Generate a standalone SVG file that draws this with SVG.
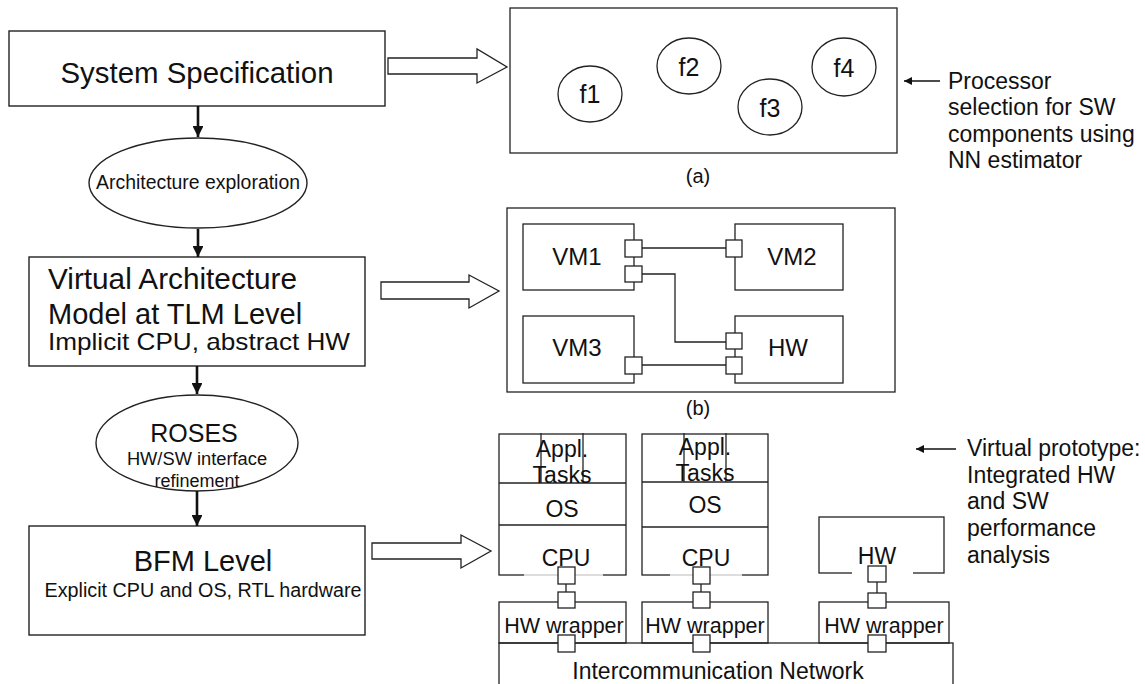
<svg xmlns="http://www.w3.org/2000/svg" width="1145" height="684" viewBox="0 0 1145 684">
<style>
.b{fill:#fff;stroke:#222;stroke-width:1.4}
.n{fill:none;stroke:#222;stroke-width:1.3}
.p{fill:#fff;stroke:#222;stroke-width:1.3}
.t{font-family:"Liberation Sans",Arial,sans-serif;fill:#111;text-anchor:middle}
.tl{font-family:"Liberation Sans",Arial,sans-serif;fill:#111;text-anchor:start}
.fl{fill:none;stroke:#111;stroke-width:2.6}
.fat{fill:#fff;stroke:#222;stroke-width:1.3}
</style>
<defs>
<marker id="ah" viewBox="0 0 10 10" refX="10" refY="5" markerWidth="4.2" markerHeight="4.2" orient="auto" markerUnits="strokeWidth"><path d="M0,0 L10,5 L0,10 z" fill="#111"/></marker>
<marker id="ah2" viewBox="0 0 10 10" refX="10" refY="5" markerWidth="13" markerHeight="8" orient="auto" markerUnits="userSpaceOnUse"><path d="M0,0 L10,5 L0,10 z" fill="#111"/></marker>
</defs>
<rect width="1145" height="684" fill="#fff"/>

<g id="sysspec">
<rect class="b" x="9" y="31" width="376" height="75"/>
<text class="t" x="197" y="83" font-size="29" textLength="273" lengthAdjust="spacingAndGlyphs">System Specification</text>
</g>
<g id="archexp">
<ellipse class="b" cx="198" cy="183" rx="109" ry="45"/>
<text class="t" x="198" y="189" font-size="19.5" textLength="204" lengthAdjust="spacingAndGlyphs">Architecture exploration</text>
</g>
<g id="vam">
<rect class="b" x="29" y="257" width="336" height="109"/>
<text class="tl" x="48" y="289" font-size="29" textLength="249" lengthAdjust="spacingAndGlyphs">Virtual Architecture</text>
<text class="tl" x="48" y="324" font-size="29">Model at TLM Level</text>
<text class="tl" x="48" y="350" font-size="24" textLength="302" lengthAdjust="spacingAndGlyphs">Implicit CPU, abstract HW</text>
</g>
<g id="roses">
<ellipse class="b" cx="197" cy="443" rx="101" ry="48"/>
<text class="t" x="194" y="442" font-size="25">ROSES</text>
<text class="t" x="197" y="465" font-size="18.3">HW/SW interface</text>
<text class="t" x="197" y="487" font-size="18">refinement</text>
</g>
<g id="bfm">
<rect class="b" x="29" y="526" width="336" height="109"/>
<text class="t" x="203" y="571" font-size="29">BFM Level</text>
<text class="t" x="203" y="597" font-size="19.5" textLength="317" lengthAdjust="spacingAndGlyphs">Explicit CPU and OS, RTL hardware</text>
</g>

<g id="panel-a">
<rect class="n" x="510" y="8" width="387" height="145"/>
<ellipse class="n" cx="590" cy="94" rx="32" ry="28"/>
<text class="t" x="590" y="103" font-size="25">f1</text>
<ellipse class="n" cx="689" cy="66" rx="32" ry="28"/>
<text class="t" x="689" y="76" font-size="25">f2</text>
<ellipse class="n" cx="770" cy="107" rx="32" ry="28"/>
<text class="t" x="770" y="117" font-size="25">f3</text>
<ellipse class="n" cx="844" cy="67" rx="32" ry="29"/>
<text class="t" x="844" y="77" font-size="25">f4</text>
<text class="t" x="698" y="183" font-size="20">(a)</text>
</g>

<g id="note-a">
<text class="tl" x="948" y="89" font-size="23">Processor</text>
<text class="tl" x="948" y="115" font-size="23">selection for SW</text>
<text class="tl" x="948" y="142" font-size="23">components using</text>
<text class="tl" x="948" y="168" font-size="23">NN estimator</text>
</g>

<g id="panel-b">
<rect class="n" x="507" y="208" width="388" height="184"/>
<g id="vm1"><rect class="n" x="523" y="224" width="111" height="66"/><text class="t" x="577" y="265" font-size="24">VM1</text></g>
<g id="vm2"><rect class="n" x="735" y="224" width="108" height="66"/><text class="t" x="792" y="265" font-size="24">VM2</text></g>
<g id="vm3"><rect class="n" x="523" y="316" width="111" height="67"/><text class="t" x="577" y="356" font-size="24">VM3</text></g>
<g id="hwb"><rect class="n" x="735" y="316" width="108" height="67"/><text class="t" x="788" y="356" font-size="24">HW</text></g>
<rect class="p" x="625" y="240" width="17" height="17"/>
<rect class="p" x="625" y="266" width="17" height="16"/>
<rect class="p" x="726" y="240" width="16" height="17"/>
<rect class="p" x="726" y="333" width="16" height="16"/>
<rect class="p" x="726" y="357" width="16" height="17"/>
<rect class="p" x="625" y="357" width="17" height="17"/>
<text class="t" x="698" y="415" font-size="20">(b)</text>
</g>

<g id="cpu1">
<rect class="n" x="499" y="434" width="127" height="141"/>
<line class="n" x1="499" y1="483" x2="626" y2="483"/>
<line class="n" x1="499" y1="525" x2="626" y2="525"/>
<line class="n" x1="541" y1="433" x2="541" y2="483"/>
<line class="n" x1="583" y1="433" x2="583" y2="483"/>
<line x1="524" y1="575" x2="603" y2="575" stroke="#fff" stroke-width="2"/>
<line x1="524" y1="575" x2="603" y2="575" stroke="#bbb" stroke-width="1"/>
<text class="t" x="562" y="457" font-size="23">Appl.</text>
<text class="t" x="562" y="483" font-size="23">Tasks</text>
<text class="t" x="562" y="517" font-size="23">OS</text>
<text class="t" x="566" y="566" font-size="23">CPU</text>
</g>
<g id="cpu2">
<rect class="n" x="642" y="434" width="126" height="141"/>
<line class="n" x1="642" y1="482" x2="768" y2="482"/>
<line class="n" x1="642" y1="527" x2="768" y2="527"/>
<line class="n" x1="684" y1="433" x2="684" y2="482"/>
<line class="n" x1="726" y1="433" x2="726" y2="482"/>
<line x1="670" y1="575" x2="742" y2="575" stroke="#fff" stroke-width="2"/>
<line x1="670" y1="575" x2="742" y2="575" stroke="#bbb" stroke-width="1"/>
<text class="t" x="705" y="455" font-size="23">Appl.</text>
<text class="t" x="705" y="481" font-size="23">Tasks</text>
<text class="t" x="705" y="513" font-size="23">OS</text>
<text class="t" x="706" y="566" font-size="23">CPU</text>
</g>
<g id="hw3">
<rect class="n" x="819" y="517" width="125" height="56"/>
<line x1="852" y1="573" x2="913" y2="573" stroke="#fff" stroke-width="2.5"/>
<text class="t" x="877" y="564" font-size="23">HW</text>
</g>
<g id="network">
<rect class="n" x="499" y="643" width="454" height="60"/>
<text class="t" x="718" y="679" font-size="23">Intercommunication Network</text>
</g>
<g id="wrap1">
<rect class="n" x="499" y="602" width="127" height="41"/>
<text class="t" x="564" y="633" font-size="21.5">HW wrapper</text>
</g>
<g id="wrap2">
<rect class="n" x="642" y="602" width="126" height="41"/>
<text class="t" x="705" y="633" font-size="21.5">HW wrapper</text>
</g>
<g id="wrap3">
<rect class="n" x="819" y="602" width="130" height="41"/>
<text class="t" x="884" y="633" font-size="21.5">HW wrapper</text>
</g>

<g id="note-b">
<text class="tl" x="967" y="456" font-size="23">Virtual prototype:</text>
<text class="tl" x="967" y="483" font-size="23">Integrated HW</text>
<text class="tl" x="967" y="509" font-size="23">and SW</text>
<text class="tl" x="967" y="536" font-size="23">performance</text>
<text class="tl" x="967" y="563" font-size="23">analysis</text>
</g>

<g id="connectors">
<line class="fl" x1="198" y1="106" x2="198" y2="137" marker-end="url(#ah)"/>
<line class="fl" x1="198" y1="229" x2="198" y2="257" marker-end="url(#ah)"/>
<line class="fl" x1="197" y1="366" x2="197" y2="394" marker-end="url(#ah)"/>
<line class="fl" x1="197" y1="491" x2="197" y2="526" marker-end="url(#ah)"/>
<polygon class="fat" points="388,58 477,58 477,49 507,67 477,83 477,74 388,74"/>
<polygon class="fat" points="381,282 469,282 469,275 499,291 469,308 469,299 381,299"/>
<polygon class="fat" points="372,543 461,543 461,535 491,551 461,568 461,559 372,559"/>
<line x1="940" y1="81" x2="904" y2="81" stroke="#111" stroke-width="1.3" marker-end="url(#ah2)"/>
<line x1="956" y1="449" x2="916" y2="449" stroke="#111" stroke-width="1.3" marker-end="url(#ah2)"/>
<polyline class="n" points="642,248 726,248"/>
<polyline class="n" points="642,274 675,274 675,342 726,342"/>
<polyline class="n" points="642,365 726,365"/>
<line class="n" x1="566" y1="584" x2="566" y2="592"/>
<line class="n" x1="701" y1="584" x2="701" y2="592"/>
<line class="n" x1="877" y1="582" x2="877" y2="593"/>
<rect class="p" x="558" y="567" width="17" height="17"/>
<rect class="p" x="558" y="592" width="17" height="16"/>
<rect class="p" x="558" y="635" width="17" height="17"/>
<rect class="p" x="693" y="567" width="17" height="17"/>
<rect class="p" x="693" y="592" width="17" height="16"/>
<rect class="p" x="693" y="635" width="17" height="17"/>
<rect class="p" x="868" y="566" width="18" height="16"/>
<rect class="p" x="868" y="593" width="18" height="15"/>
<rect class="p" x="868" y="635" width="18" height="17"/>
</g>
</svg>
